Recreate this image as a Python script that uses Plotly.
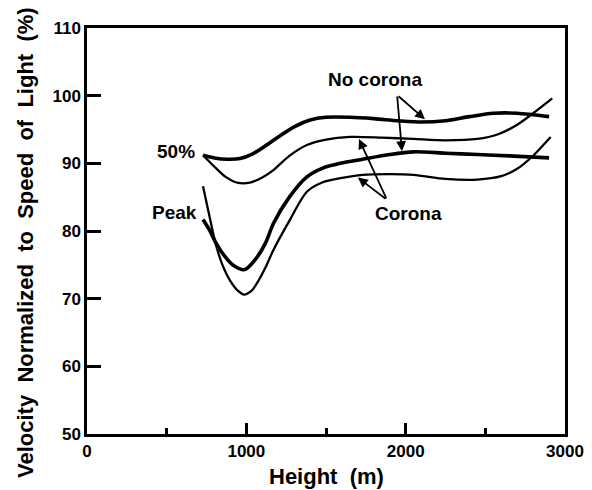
import plotly.graph_objects as go

# 50% velocity, no corona (thick)
x_50_nc = [728, 800, 880, 960, 1040, 1120, 1200, 1300, 1400, 1500, 1650, 1800, 1950, 2100, 2250, 2400, 2550, 2700, 2900]
y_50_nc = [91.2, 90.8, 90.6, 90.7, 91.4, 92.6, 93.9, 95.4, 96.4, 96.8, 96.8, 96.6, 96.3, 96.1, 96.3, 96.9, 97.4, 97.4, 96.9]

# 50% velocity, corona (thin)
x_50_c = [728, 800, 870, 950, 1030, 1100, 1170, 1270, 1380, 1500, 1650, 1850, 2050, 2250, 2450, 2580, 2700, 2800, 2920]
y_50_c = [91.2, 89.5, 88.0, 87.1, 87.2, 87.9, 89.0, 91.1, 92.7, 93.5, 93.9, 93.8, 93.6, 93.4, 93.6, 94.3, 95.7, 97.4, 99.6]

# Peak velocity, no corona (thick)
x_pk_nc = [728, 770, 810, 860, 920, 990, 1060, 1120, 1170, 1270, 1380, 1480, 1590, 1730, 1900, 2050, 2250, 2450, 2650, 2900]
y_pk_nc = [81.7, 80.1, 78.2, 76.4, 74.9, 74.3, 75.9, 78.2, 81.1, 85.0, 88.0, 89.3, 90.0, 90.6, 91.3, 91.7, 91.5, 91.3, 91.1, 90.8]

# Peak velocity, corona (thin)
x_pk_c = [728, 765, 805, 850, 900, 950, 985, 1030, 1070, 1120, 1170, 1270, 1380, 1480, 1590, 1730, 1900, 2050, 2250, 2450, 2600, 2700, 2790, 2910]
y_pk_c = [86.6, 82.6, 78.3, 75.0, 72.6, 71.1, 70.6, 71.1, 72.4, 74.6, 77.2, 81.5, 85.8, 87.2, 87.8, 88.3, 88.4, 88.3, 87.7, 87.6, 88.1, 89.2, 90.9, 93.9]

x_ticks = [0, 1000, 2000, 3000]
x_minor = [500, 1500, 2500]
y_ticks = [50, 60, 70, 80, 90, 100, 110]

FONT = "Liberation Sans, Arial, sans-serif"

fig = go.Figure()
for xs, ys, w, name in [
    (x_50_nc, y_50_nc, 3.6, "50% no corona"),
    (x_50_c, y_50_c, 2.3, "50% corona"),
    (x_pk_nc, y_pk_nc, 3.6, "Peak no corona"),
    (x_pk_c, y_pk_c, 2.3, "Peak corona"),
]:
    fig.add_trace(go.Scatter(x=xs, y=ys, mode="lines", name=name,
                             line=dict(color="black", width=w, shape="spline", smoothing=0.8),
                             showlegend=False, hoverinfo="skip"))

def label(text, x, y):
    fig.add_annotation(x=x, y=y, xref="x", yref="y", text="<b>%s</b>" % text,
                       showarrow=False, font=dict(family=FONT, size=19, color="black"))

def arrow(x0, y0, x1, y1):
    fig.add_annotation(x=x1, y=y1, ax=x0, ay=y0, xref="x", yref="y", axref="x", ayref="y",
                       text="", showarrow=True, arrowhead=2, arrowsize=1.1, arrowwidth=1.8,
                       arrowcolor="black", standoff=0)

label("No corona", 1807, 102.4)
arrow(1946, 100.1, 2121, 96.5)
arrow(1946, 100.1, 1977, 91.8)
label("Corona", 2015, 82.6)
arrow(1883, 84.6, 1707, 93.6)
arrow(1883, 84.6, 1700, 87.9)
label("50%", 559, 91.8)
label("Peak", 546, 82.7)

# axis titles as paper annotations for exact placement
fig.add_annotation(x=0.5, y=0, xref="paper", yref="paper", xanchor="center", yanchor="middle",
                   yshift=-42, text="<b>Height  (m)</b>", showarrow=False,
                   font=dict(family=FONT, size=22, color="black"))
fig.add_annotation(x=0, y=0.5, xref="paper", yref="paper", xanchor="center", yanchor="middle",
                   xshift=-62, yshift=-12, textangle=-90,
                   text="<b>Velocity  Normalized  to  Speed  of  Light  (%)</b>", showarrow=False,
                   font=dict(family=FONT, size=22, color="black"))

fig.update_layout(
    width=584, height=482,
    margin=dict(l=79, r=27, t=20, b=56, autoexpand=False),
    paper_bgcolor="white", plot_bgcolor="white",
    font=dict(family=FONT, color="black"),
    xaxis=dict(range=[0, 3000], tickvals=x_ticks, ticktext=["<b>%d</b>" % v for v in x_ticks],
               ticks="inside", ticklen=11, tickwidth=2.5, tickcolor="black",
               minor=dict(tickvals=x_minor, ticks="inside", ticklen=6, tickwidth=2.5, tickcolor="black"),
               showgrid=False, zeroline=False, showline=True, linewidth=2.5, linecolor="black",
               mirror=True, tickfont=dict(size=17, family=FONT), automargin=False),
    yaxis=dict(range=[50, 110], tickvals=y_ticks, ticktext=["<b>%d</b>" % v for v in y_ticks],
               ticks="inside", ticklen=14, tickwidth=2.5, tickcolor="black",
               showgrid=False, zeroline=False, showline=True, linewidth=2.5, linecolor="black",
               mirror=True, tickfont=dict(size=17, family=FONT), automargin=False),
)

fig.write_html("out.html")
